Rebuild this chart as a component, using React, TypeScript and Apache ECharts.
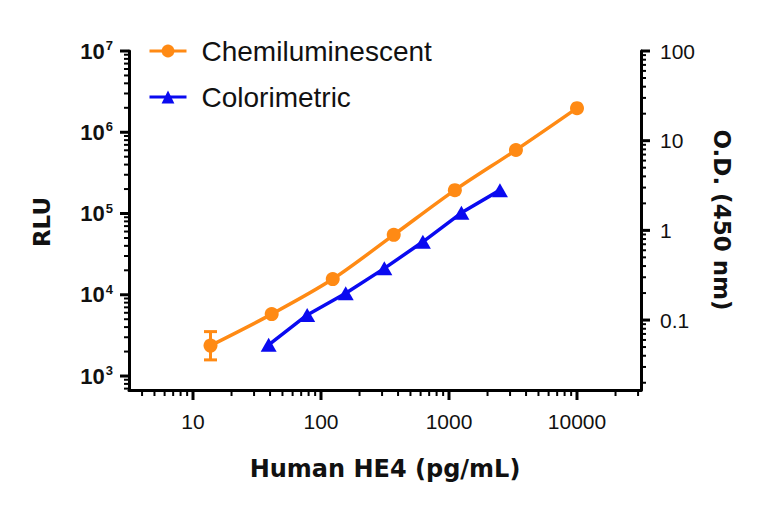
import React, { useEffect, useRef } from "react";
import * as echarts from "echarts";

// Chemiluminescent assay (left axis, RLU)
const chemiConc = [13.7, 41.2, 123.5, 370, 1111, 3333, 10000];
const chemiRLU = [2370, 5780, 15600, 54600, 194000, 604000, 1980000];
// error bar on the lowest standard
const errConc = [13.7];
const errLow = [1580];
const errHigh = [3520];

// Colorimetric assay (right axis, O.D. 450 nm)
const coloConc = [39, 78, 156, 312.5, 625, 1250, 2500];
const coloOD = [0.053, 0.114, 0.199, 0.377, 0.746, 1.57, 2.81];

// axis ranges
const X_MIN = Math.pow(10, 0.5);
const X_MAX = Math.pow(10, 4.5);
const RLU_MIN = 673;
const RLU_MAX = 1e7;
const OD_MIN = 0.0166;
const OD_MAX = 100;

// decade tick positions
const xMajor = [10, 100, 1000, 10000];
const rluMajor = [1e3, 1e4, 1e5, 1e6, 1e7];
const odMajor = [0.1, 1, 10, 100];

const minorBetween = (lo: number, hi: number, from: number, to: number) => {
  const out: number[] = [];
  for (let d = from; d <= to; d++) {
    const base = Math.pow(10, d);
    for (let k = 2; k <= 9; k++) {
      const v = k * base;
      if (v > lo && v < hi) out.push(v);
    }
  }
  return out;
};

const xMinor = minorBetween(X_MIN, X_MAX, 0, 4);
const rluMinor = minorBetween(RLU_MIN, RLU_MAX, 2, 6);
const odMinor = minorBetween(OD_MIN, OD_MAX, -2, 1);

const ORANGE = "#FF8A14";
const BLUE = "#0A0AF0";
const SANS = "Liberation Sans, Arial, Helvetica, sans-serif";
const TITLE = "DejaVu Sans, sans-serif";

const isDecade = (v: number) => {
  const l = Math.log10(v);
  return Math.abs(l - Math.round(l)) < 1e-6;
};

const tickSeries = (
  values: number[],
  side: "bottom" | "left" | "right",
  len: number,
  width: number
) => ({
  type: "custom",
  silent: true,
  clip: false,
  z: 5,
  yAxisIndex: side === "right" ? 1 : 0,
  data: values.map((v) =>
    side === "bottom" ? [v, RLU_MIN] : side === "left" ? [X_MIN, v] : [X_MAX, v]
  ),
  renderItem: (_p: any, api: any) => {
    const pt = api.coord([api.value(0), api.value(1)]);
    let x2 = pt[0];
    let y2 = pt[1];
    if (side === "bottom") y2 += len;
    else if (side === "left") x2 -= len;
    else x2 += len;
    return {
      type: "line",
      shape: { x1: pt[0], y1: pt[1], x2, y2 },
      style: { stroke: "#000", lineWidth: width },
    };
  },
});

export default function App() {
  const ref = useRef<HTMLDivElement>(null);

  useEffect(() => {
    document.body.style.margin = "0";
    if (!ref.current) return;
    const chart = echarts.init(ref.current, null, { renderer: "svg" });

    const axisLine = { show: true, onZero: false, lineStyle: { color: "#000", width: 3 } };

    chart.setOption({
      animation: false,
      backgroundColor: "#fff",
      grid: { left: 129, right: 127, top: 51, bottom: 119 },
      legend: {
        orient: "vertical",
        left: 143,
        top: 32,
        itemWidth: 37,
        itemHeight: 16,
        itemGap: 18,
        data: ["Chemiluminescent", "Colorimetric"],
        lineStyle: { width: 3 },
        textStyle: {
          fontFamily: SANS,
          fontSize: 28,
          color: "#111",
          padding: [0, 0, 0, 10],
        },
      },
      xAxis: {
        type: "log",
        logBase: 10,
        min: X_MIN,
        max: X_MAX,
        axisLine,
        axisTick: { show: false },
        splitLine: { show: false },
        axisLabel: {
          margin: 21,
          showMinLabel: false,
          showMaxLabel: false,
          fontFamily: SANS,
          fontSize: 21,
          color: "#111",
          formatter: (v: number) => (isDecade(v) ? String(Math.round(v)) : ""),
        },
      },
      yAxis: [
        {
          type: "log",
          logBase: 10,
          min: RLU_MIN,
          max: RLU_MAX,
          position: "left",
          axisLine,
          axisTick: { show: false },
          splitLine: { show: false },
          axisLabel: {
            margin: 16,
            showMinLabel: false,
            fontFamily: SANS,
            fontWeight: "bold",
            fontSize: 21,
            color: "#111",
            formatter: (v: number) =>
              isDecade(v) ? `{b|10}{s|${Math.round(Math.log10(v))}}` : "",
            rich: {
              b: {
                fontFamily: SANS,
                fontWeight: "bold",
                fontSize: 22,
                lineHeight: 24,
                color: "#111",
              },
              s: {
                fontFamily: SANS,
                fontWeight: "bold",
                fontSize: 13,
                lineHeight: 13,
                verticalAlign: "top",
                color: "#111",
                padding: [0, 0, 0, 1],
              },
            },
          },
        },
        {
          type: "log",
          logBase: 10,
          min: OD_MIN,
          max: OD_MAX,
          position: "right",
          axisLine,
          axisTick: { show: false },
          splitLine: { show: false },
          axisLabel: {
            margin: 19,
            showMinLabel: false,
            fontFamily: SANS,
            fontSize: 21,
            color: "#111",
            formatter: (v: number) => (isDecade(v) ? String(+v.toPrecision(3)) : ""),
          },
        },
      ],
      graphic: [
        {
          type: "text",
          x: 385,
          y: 469,
          style: {
            text: "Human HE4 (pg/mL)",
            fontFamily: TITLE,
            fontWeight: "bold",
            fontSize: 24,
            fill: "#111",
            align: "center",
            verticalAlign: "middle",
          },
        },
        {
          type: "text",
          x: 42,
          y: 222,
          rotation: Math.PI / 2,
          style: {
            text: "RLU",
            fontFamily: TITLE,
            fontWeight: "bold",
            fontSize: 23,
            fill: "#111",
            align: "center",
            verticalAlign: "middle",
          },
        },
        {
          type: "text",
          x: 722,
          y: 220,
          rotation: -Math.PI / 2,
          style: {
            text: "O.D. (450 nm)",
            fontFamily: TITLE,
            fontWeight: "bold",
            fontSize: 23,
            fill: "#111",
            align: "center",
            verticalAlign: "middle",
          },
        },
      ],
      series: [
        tickSeries(xMajor, "bottom", 10, 3),
        tickSeries(xMinor, "bottom", 6, 2),
        tickSeries(rluMajor, "left", 9, 3),
        tickSeries(rluMinor, "left", 5, 2),
        tickSeries(odMajor, "right", 9, 3),
        tickSeries(odMinor, "right", 5, 2),
        {
          type: "custom",
          name: "errorbar",
          silent: true,
          clip: false,
          z: 3,
          data: errConc.map((c, i) => [c, errLow[i], errHigh[i]]),
          renderItem: (_p: any, api: any) => {
            const lo = api.coord([api.value(0), api.value(1)]);
            const hi = api.coord([api.value(0), api.value(2)]);
            const w = 6.5;
            const style = { stroke: ORANGE, lineWidth: 3 };
            return {
              type: "group",
              children: [
                { type: "line", shape: { x1: lo[0], y1: lo[1], x2: hi[0], y2: hi[1] }, style },
                { type: "line", shape: { x1: lo[0] - w, y1: lo[1], x2: lo[0] + w, y2: lo[1] }, style },
                { type: "line", shape: { x1: hi[0] - w, y1: hi[1], x2: hi[0] + w, y2: hi[1] }, style },
              ],
            };
          },
        },
        {
          type: "line",
          name: "Chemiluminescent",
          yAxisIndex: 0,
          data: chemiConc.map((c, i) => [c, chemiRLU[i]]),
          smooth: 0.3,
          symbol: "circle",
          symbolSize: 14,
          z: 4,
          itemStyle: { color: ORANGE },
          lineStyle: { color: ORANGE, width: 3.5 },
        },
        {
          type: "line",
          name: "Colorimetric",
          yAxisIndex: 1,
          data: coloConc.map((c, i) => [c, coloOD[i]]),
          symbol: "triangle",
          symbolSize: [16, 14],
          z: 4,
          itemStyle: { color: BLUE },
          lineStyle: { color: BLUE, width: 3.5 },
        },
      ],
    });

    return () => chart.dispose();
  }, []);

  return <div ref={ref} style={{ width: 768, height: 509 }} />;
}
